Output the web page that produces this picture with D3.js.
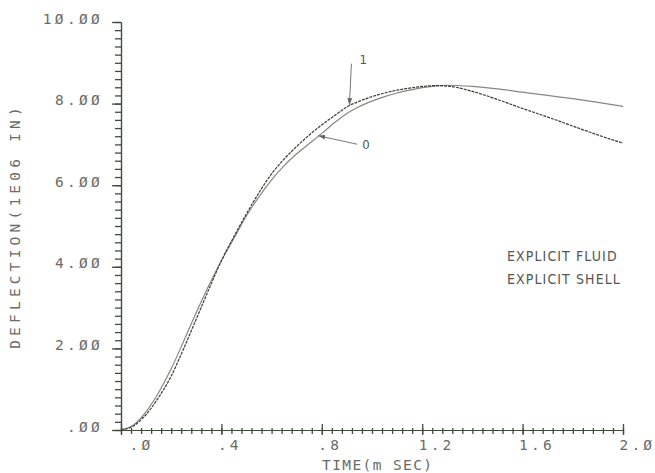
<!DOCTYPE html>
<html lang="en">

<head>
    <meta charset="UTF-8">
    <script src="https://cdn.jsdelivr.net/npm/d3@7/dist/d3.min.js"></script>
    <title>Deflection</title>
    <style>
        body { margin: 0; background: #fff; }
        .plotter { font-family: 'DejaVu Sans Mono', monospace; fill: #6b6b66; }
        .note { font-family: 'DejaVu Sans Condensed', 'DejaVu Sans', sans-serif; fill: #555; }
    </style>
</head>

<body>
    <svg id="mainsvg" width="655" height="473"></svg>
    <script>
        // time (m sec)
        const times = [0, .05, .1, .15, .2, .25, .3, .35, .4, .45, .5, .55, .6, .65, .7, .75, .8, .85, .9, .95,
            1.0, 1.05, 1.1, 1.15, 1.2, 1.25, 1.3, 1.4, 1.5, 1.6, 1.7, 1.8, 1.9, 2.0]
        // deflection, curve "0"
        const curve0 = [0, .12, .45, .92, 1.5, 2.18, 2.88, 3.54, 4.15, 4.7, 5.25, 5.72, 6.13, 6.48, 6.77, 7.02, 7.27, 7.53, 7.76, 7.93,
            8.06, 8.17, 8.26, 8.33, 8.39, 8.43, 8.45, 8.42, 8.36, 8.28, 8.2, 8.12, 8.03, 7.93]
        // deflection, curve "1"
        const curve1 = [0, .1, .38, .8, 1.32, 2.0, 2.72, 3.45, 4.15, 4.74, 5.3, 5.82, 6.28, 6.64, 6.95, 7.23, 7.48, 7.7, 7.92, 8.06,
            8.17, 8.26, 8.33, 8.38, 8.42, 8.44, 8.43, 8.3, 8.1, 7.88, 7.67, 7.45, 7.23, 7.03]

        const xTicks = [0, .4, .8, 1.2, 1.6, 2.0]
        const xTickLabels = ['.Ø', '.4', '.8', '1.2', '1.6', '2.Ø']
        const yTicks = [0, 2, 4, 6, 8, 10]
        const yTickLabels = ['.ØØ', '2.ØØ', '4.ØØ', '6.ØØ', '8.ØØ', '1Ø.ØØ']
        const xMinor = d3.range(0, 51).map(i => i * 0.04)
        const yMinor = d3.range(0, 51).map(i => i * 0.2)
        const legendLines = ['EXPLICIT FLUID', 'EXPLICIT SHELL']

        const svg = d3.select('#mainsvg')
        const axisColor = '#434b3d'

        const x = d3.scaleLinear().domain([0, 2]).range([121, 623])
        const y = d3.scaleLinear().domain([0, 10]).range([430, 22])

        // minor ticks
        const gx = svg.append('g').attr('transform', `translate(0,${y(0)})`)
        gx.call(d3.axisBottom(x).tickValues(xMinor).tickSize(4).tickSizeOuter(0).tickFormat(() => ''))
        const gy = svg.append('g').attr('transform', `translate(${x(0)},0)`)
        gy.call(d3.axisLeft(y).tickValues(yMinor).tickSize(6).tickSizeOuter(0).tickFormat(() => ''))
        gx.selectAll('.tick line').attr('y1', -2)

        // major ticks + labels
        const xAxis = svg.append('g')
            .attr('transform', `translate(0,${y(0)})`)
            .call(d3.axisBottom(x).tickValues(xTicks).tickSize(5).tickSizeOuter(0).tickFormat((d, i) => xTickLabels[i]))
        xAxis.selectAll('.tick line').attr('y1', -6)
        xAxis.selectAll('.tick text')
            .attr('class', 'plotter')
            .attr('text-anchor', 'start')
            .attr('x', (d, i) => i === 0 ? 8 : -4)
            .attr('y', 20).attr('dy', 0)
            .attr('font-size', 14.5).attr('letter-spacing', 3.2)

        const yAxis = svg.append('g')
            .attr('transform', `translate(${x(0)},0)`)
            .call(d3.axisLeft(y).tickValues(yTicks).tickSize(9).tickSizeOuter(0).tickPadding(9).tickFormat((d, i) => yTickLabels[i]))
        yAxis.selectAll('.tick text')
            .attr('class', 'plotter')
            .attr('dy', 1)
            .attr('font-size', 14.5).attr('letter-spacing', 3.3)

        svg.selectAll('.domain').attr('stroke', axisColor).attr('stroke-width', 1.2)
        svg.selectAll('.tick line').attr('stroke', axisColor).attr('stroke-width', 1.3)
        svg.selectAll('.tick text').attr('font-family', null).attr('fill', null)

        // axis titles
        svg.append('text').attr('class', 'plotter')
            .text('TIME(m SEC)')
            .attr('x', 322).attr('y', 470)
            .attr('font-size', 14.5).attr('letter-spacing', 1.4)
        svg.append('text').attr('class', 'plotter')
            .text('DEFLECTION(1E06 IN)')
            .attr('transform', 'translate(20,226) rotate(-90)')
            .attr('text-anchor', 'middle')
            .attr('font-size', 14.5).attr('letter-spacing', 4.2)

        // curves
        const line = d3.line()
            .x((d, i) => x(times[i]))
            .y(d => y(d))
            .curve(d3.curveMonotoneX)

        svg.append('path').datum(curve0)
            .attr('d', line)
            .attr('fill', 'none')
            .attr('stroke', '#858883')
            .attr('stroke-width', 1.2)
        svg.append('path').datum(curve1)
            .attr('d', line)
            .attr('fill', 'none')
            .attr('stroke', '#3a3d37')
            .attr('stroke-width', 1.2)
            .attr('stroke-dasharray', '3,1')

        // curve labels with arrows
        svg.append('defs').append('marker')
            .attr('id', 'head')
            .attr('viewBox', '0 0 10 10')
            .attr('refX', 10).attr('refY', 5)
            .attr('markerWidth', 7).attr('markerHeight', 7)
            .attr('markerUnits', 'userSpaceOnUse')
            .attr('orient', 'auto')
            .append('path').attr('d', 'M0,1.5L10,5L0,8.5Z').attr('fill', '#666')

        const valueAt = (series, t) => {
            const i = d3.bisectRight(times, t) - 1
            const f = (t - times[i]) / (times[i + 1] - times[i])
            return series[i] + f * (series[i + 1] - series[i])
        }
        const notes = [
            { label: '1', series: curve1, t: 0.91, dx: 2, dy: -42, tx: 10, ty: -42 },
            { label: '0', series: curve0, t: 0.786, dx: 39, dy: 8, tx: 44, ty: 13 }
        ]
        notes.forEach(n => {
            const px = x(n.t), py = y(valueAt(n.series, n.t))
            svg.append('line')
                .attr('x1', px + n.dx).attr('y1', py + n.dy)
                .attr('x2', px).attr('y2', py - 0.5)
                .attr('stroke', '#777').attr('stroke-width', 1)
                .attr('marker-end', 'url(#head)')
            svg.append('text').attr('class', 'note')
                .text(n.label)
                .attr('x', px + n.tx).attr('y', py + n.ty)
                .attr('font-size', 13)
        })

        // legend text
        legendLines.forEach((t, i) => {
            svg.append('text').attr('class', 'note')
                .text(t)
                .attr('x', 507).attr('y', 261 + i * 23)
                .attr('font-size', 14).attr('letter-spacing', 1.1)
        })
    </script>
</body>

</html>
